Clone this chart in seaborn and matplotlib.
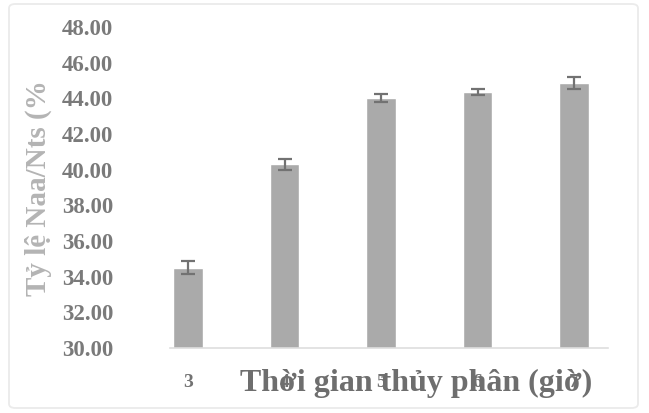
import matplotlib
matplotlib.use("Agg")
import matplotlib.pyplot as plt
from matplotlib.patches import FancyBboxPatch
import seaborn as sns
import pandas as pd

# Hydrolysis time (hours) and Naa/Nts ratio with standard deviations
hours = ["3", "4", "5", "6", "7"]
ratio = [34.50, 40.30, 44.02, 44.35, 44.85]
std_dev = [0.37, 0.30, 0.24, 0.18, 0.33]
yticks = [30, 32, 34, 36, 38, 40, 42, 44, 46, 48]

df = pd.DataFrame({"hours": hours, "ratio": ratio})

sns.set_theme(style="white")
plt.rcParams["font.family"] = ["Liberation Serif", "DejaVu Serif"]

fig = plt.figure(figsize=(6.49, 4.13), dpi=100)
ax = fig.add_axes([170 / 649, 1 - 348 / 413, 438 / 649, 321 / 413])

# Faint outer frame around the whole chart
frame = FancyBboxPatch((9 / 649, 5 / 413), 629 / 649, 404 / 413,
                       boxstyle="round,pad=0,rounding_size=0.01",
                       transform=fig.transFigure, fill=False,
                       edgecolor="#ebebeb", linewidth=1.3, zorder=0)
fig.patches.append(frame)

sns.barplot(data=df, x="hours", y="ratio", ax=ax, color="#aaaaaa",
            saturation=1, width=0.31, errorbar=None, bottom=0)
ax.errorbar(range(len(hours)), ratio, yerr=std_dev, fmt="none",
            ecolor="#727272", elinewidth=1.6, capsize=4.8, capthick=1.6,
            zorder=3)

ax.set_ylim(30, 48)
ax.set_xlim(-0.187, 4.352)
ax.set_yticks(yticks)
ax.set_yticklabels([f"{v:.2f}" for v in yticks])

for s in ["top", "right", "left"]:
    ax.spines[s].set_visible(False)
ax.spines["bottom"].set_color("#dedede")
ax.spines["bottom"].set_linewidth(1.2)

ax.tick_params(axis="y", length=0, pad=41, labelsize=16.5,
               labelcolor="#7a7a7a")
ax.tick_params(axis="x", length=0, pad=19, labelsize=14,
               labelcolor="#727272")
for lbl in ax.get_yticklabels() + ax.get_xticklabels():
    lbl.set_fontweight("bold")

ax.set_xlabel("Thời gian thủy phân (giờ)", fontsize=23, fontweight="bold",
              color="#6e6e6e")
ax.xaxis.set_label_coords(0.563, -0.112)
ax.xaxis.label.set_verticalalignment("center")

ax.set_ylabel("Tỷ lệ Naa/Nts (%", fontsize=21, fontweight="bold",
              color="#b4b4b4")
ax.yaxis.set_label_coords(-0.301, 0.498)
ax.yaxis.label.set_verticalalignment("center")

fig.savefig("out.png", dpi=100)
